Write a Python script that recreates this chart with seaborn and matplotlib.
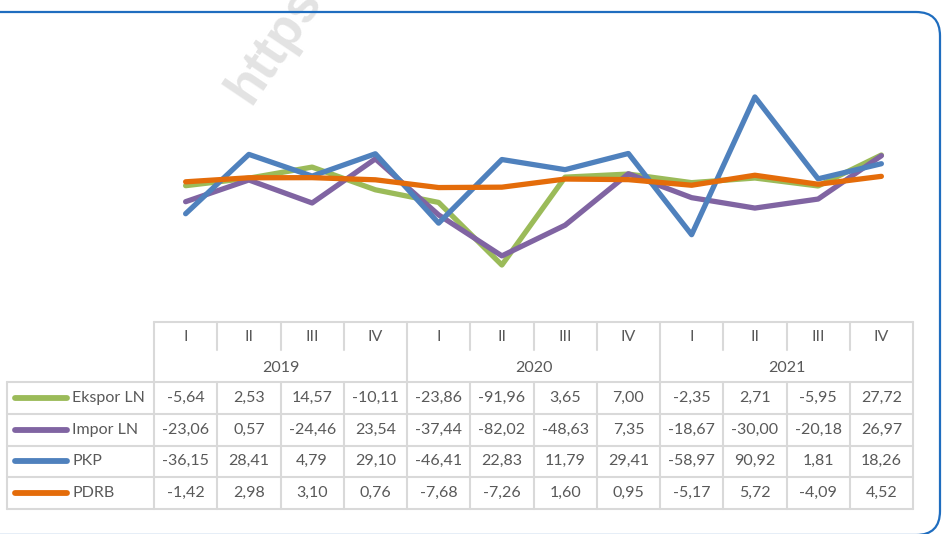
import matplotlib
matplotlib.use("Agg")
import matplotlib.pyplot as plt
from matplotlib.patches import FancyBboxPatch
import numpy as np
import pandas as pd
import seaborn as sns

# ---------------- data ----------------
years = ["2019", "2020", "2021"]
quarters = ["I", "II", "III", "IV"]
series_names = ["Ekspor LN", "Impor LN", "PKP", "PDRB"]
ekspor = [-5.64, 2.53, 14.57, -10.11, -23.86, -91.96, 3.65, 7.00, -2.35, 2.71, -5.95, 27.72]
impor = [-23.06, 0.57, -24.46, 23.54, -37.44, -82.02, -48.63, 7.35, -18.67, -30.00, -20.18, 26.97]
pkp = [-36.15, 28.41, 4.79, 29.10, -46.41, 22.83, 11.79, 29.41, -58.97, 90.92, 1.81, 18.26]
pdrb = [-1.42, 2.98, 3.10, 0.76, -7.68, -7.26, 1.60, 0.95, -5.17, 5.72, -4.09, 4.52]
colors = ["#9BBB59", "#8064A2", "#4F81BD", "#E46C0A"]

series_values = [ekspor, impor, pkp, pdrb]
n = len(ekspor)
records = []
for name, vals in zip(series_names, series_values):
    for i, v in enumerate(vals):
        records.append({"idx": i, "value": v, "series": name})
df = pd.DataFrame(records)

# ---------------- style ----------------
sns.set_style("white")
plt.rcParams["font.family"] = ["Lato", "DejaVu Sans"]

W, H = 943, 534
fig = plt.figure(figsize=(W / 100, H / 100), dpi=100)

# background overlay axes in pixel coordinates
bg = fig.add_axes([0, 0, 1, 1])
bg.set_xlim(0, W)
bg.set_ylim(H, 0)
bg.axis("off")

# table geometry (pixels)
tab_left = 154
tab_right = 913
col_w = (tab_right - tab_left) / n
legend_left = 7
y_top = 322
y_roman_bot = 350
y_year_bot = 382
y_bot = 509
row_h = (y_bot - y_year_bot) / 4

# chart axes aligned to table columns
ax_top_px, ax_bot_px = 40, 300
zero_px, px_per_unit = 180.5, 0.919
ax = fig.add_axes([tab_left / W, 1 - ax_bot_px / H, (tab_right - tab_left) / W,
                   (ax_bot_px - ax_top_px) / H])
ax.patch.set_alpha(0)
sns.lineplot(data=df, x="idx", y="value", hue="series", hue_order=series_names,
             palette=colors, linewidth=3.8, legend=False, ax=ax, sort=False)
for ln in ax.lines:
    ln.set_solid_capstyle("round")
    ln.set_solid_joinstyle("round")
ax.set_xlim(-0.5, n - 0.5)
ax.set_ylim((zero_px - ax_bot_px) / px_per_unit, (zero_px - ax_top_px) / px_per_unit)
ax.axis("off")

# watermark
bg.text(250, 106, "https", rotation=56, rotation_mode="anchor", ha="left",
        va="baseline", fontsize=38, fontweight="bold", color="#e3e3e3",
        family="Liberation Sans", zorder=0)

# rounded blue border
border = FancyBboxPatch((-40, 12), 980, 523,
                        boxstyle="round,pad=0,rounding_size=24",
                        fill=False, edgecolor="#1F6DBF", linewidth=1.6, zorder=1)
bg.add_patch(border)

# table grid
gc = "#D9D9D9"
glw = 1.5
bg.plot([tab_left, tab_right], [y_top, y_top], color=gc, lw=glw)
for r in range(5):
    y = y_year_bot + r * row_h
    bg.plot([legend_left, tab_right], [y, y], color=gc, lw=glw)
bg.plot([legend_left, legend_left], [y_year_bot, y_bot], color=gc, lw=glw)
for k in range(n + 1):
    x = tab_left + k * col_w
    if k % 4 == 0:
        bg.plot([x, x], [y_top, y_bot], color=gc, lw=glw)
    else:
        bg.plot([x, x], [y_top, y_roman_bot], color=gc, lw=glw)
        bg.plot([x, x], [y_year_bot, y_bot], color=gc, lw=glw)

tc = "#595959"
fs = 11.5
for i in range(n):
    xc = tab_left + (i + 0.5) * col_w
    bg.text(xc, (y_top + y_roman_bot) / 2 + 1, quarters[i % 4], ha="center", va="center",
            fontsize=fs, color=tc)
for j, yr in enumerate(years):
    xc = tab_left + (j * 4 + 2) * col_w
    bg.text(xc, (y_roman_bot + y_year_bot) / 2 + 2, yr, ha="center", va="center",
            fontsize=fs, color=tc)

for r, (name, vals, c) in enumerate(zip(series_names, series_values, colors)):
    yc = y_year_bot + (r + 0.5) * row_h
    bg.plot([15, 67], [yc, yc], color=c, lw=4.2, solid_capstyle="round")
    bg.text(72, yc, name, ha="left", va="center", fontsize=fs, color=tc)
    for i, v in enumerate(vals):
        xc = tab_left + (i + 0.5) * col_w
        bg.text(xc, yc, f"{v:.2f}".replace(".", ","), ha="center", va="center",
                fontsize=fs, color=tc)

fig.savefig("out.png", dpi=100)
